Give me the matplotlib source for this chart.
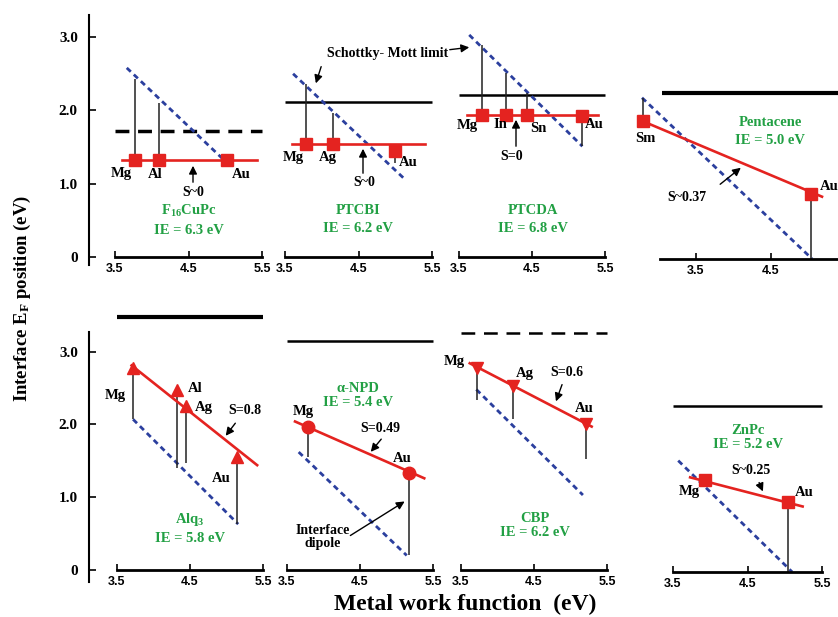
import matplotlib
matplotlib.use('Agg')
import matplotlib.pyplot as plt

W, H = 838, 617
plt.rcParams['font.family'] = ['Liberation Serif', 'DejaVu Serif']
plt.rcParams['font.weight'] = 'bold'
plt.rcParams['mathtext.fontset'] = 'custom'
plt.rcParams['mathtext.rm'] = 'Liberation Serif:bold'
plt.rcParams['mathtext.it'] = 'Liberation Serif:bold'
plt.rcParams['mathtext.bf'] = 'Liberation Serif:bold'

RED = '#e42320'
BLUE = '#2b3f9e'
GREEN = '#22a044'

# ---------------- data (eV) ----------------
ticks_x = [3.5, 4.5, 5.5]
ticks_y = [0, 1, 2, 3]
tick_y_labels = ['0', '1.0', '2.0', '3.0']

# F16CuPc
f16_metals = ['Mg', 'Al', 'Au']
f16_wf = [3.77, 4.10, 5.02]
f16_ef = [1.32, 1.32, 1.32]
f16_top = [2.43, 2.10, 1.32]
f16_sm_x = [3.66, 5.06]
f16_sm_y = [2.58, 1.25]
f16_fit_x = [3.60, 5.43]
f16_fit_y = [1.32, 1.32]
f16_level = 1.72

# PTCBI
ptcbi_metals = ['Mg', 'Ag', 'Au']
ptcbi_wf = [3.79, 4.15, 4.99]
ptcbi_ef = [1.54, 1.54, 1.45]
ptcbi_top = [2.36, 1.96, 1.28]
ptcbi_sm_x = [3.61, 5.11]
ptcbi_sm_y = [2.50, 1.08]
ptcbi_fit_x = [3.60, 5.40]
ptcbi_fit_y = [1.54, 1.54]
ptcbi_level = 2.11

# PTCDA
ptcda_metals = ['Mg', 'In', 'Sn', 'Au']
ptcda_wf = [3.81, 4.15, 4.43, 5.19]
ptcda_ef = [1.94, 1.94, 1.94, 1.93]
ptcda_top = [2.89, 2.51, 2.24, 1.51]
ptcda_sm_x = [3.64, 5.19]
ptcda_sm_y = [3.03, 1.51]
ptcda_fit_x = [3.61, 5.40]
ptcda_fit_y = [1.94, 1.94]
ptcda_level = 2.21

# Pentacene
pen_metals = ['Sm', 'Au']
pen_wf = [2.79, 5.03]
pen_ef = [1.88, 0.89]
pen_top = [2.20, 0.0]
pen_sm_x = [2.78, 5.05]
pen_sm_y = [2.20, 0.0]
pen_fit_x = [2.79, 5.18]
pen_fit_y = [1.88, 0.85]
pen_level = 2.26

# Alq3
alq_metals = ['Mg', 'Al', 'Ag', 'Au']
alq_wf = [3.72, 4.32, 4.45, 5.15]
alq_ef = [2.78, 2.47, 2.25, 1.55]
alq_bot = [2.07, 1.40, 1.47, 0.63]
alq_sm_x = [3.72, 5.16]
alq_sm_y = [2.07, 0.63]
alq_fit_x = [3.70, 5.42]
alq_fit_y = [2.81, 1.44]
alq_level = 3.48

# alpha-NPD
npd_metals = ['Mg', 'Au']
npd_wf = [3.79, 5.17]
npd_ef = [1.97, 1.33]
npd_bot = [1.55, 0.20]
npd_sm_x = [3.66, 5.14]
npd_sm_y = [1.62, 0.20]
npd_fit_x = [3.61, 5.38]
npd_fit_y = [2.04, 1.26]
npd_level = 3.15

# CBP
cbp_metals = ['Mg', 'Ag', 'Au']
cbp_wf = [3.72, 4.21, 5.21]
cbp_ef = [2.77, 2.53, 2.00]
cbp_bot = [2.33, 2.07, 1.52]
cbp_sm_x = [3.71, 5.17]
cbp_sm_y = [2.48, 1.03]
cbp_fit_x = [3.62, 5.29]
cbp_fit_y = [2.84, 1.97]
cbp_level = 3.26

# ZnPc
znpc_metals = ['Mg', 'Au']
znpc_wf = [3.93, 5.04]
znpc_ef = [1.27, 0.96]
znpc_bot = [1.27, 0.0]
znpc_sm_x = [3.57, 5.10]
znpc_sm_y = [1.53, 0.0]
znpc_fit_x = [3.73, 5.24]
znpc_fit_y = [1.30, 0.90]
znpc_level = 2.28

# ---------------- layout ----------------
fig = plt.figure(figsize=(W / 100, H / 100), dpi=100)
XMIN, XMAX, YMIN, YMAX = 2.5, 6.0, -0.5, 3.7


def make_ax(x35, sx, y0, sy, xb=(3.5, 5.5), yaxis=None):
    left = (x35 + (XMIN - 3.5) * sx) / W
    right = (x35 + (XMAX - 3.5) * sx) / W
    bottom = 1 - (y0 - YMIN * sy) / H
    top = 1 - (y0 - YMAX * sy) / H
    ax = fig.add_axes([left, bottom, right - left, top - bottom])
    ax.set_xlim(XMIN, XMAX)
    ax.set_ylim(YMIN, YMAX)
    ax.patch.set_visible(False)
    ax.spines['top'].set_visible(False)
    ax.spines['right'].set_visible(False)
    ax.spines['bottom'].set_position(('data', 0))
    ax.spines['bottom'].set_bounds(*xb)
    ax.spines['bottom'].set_linewidth(2.0)
    ax.set_xticks(ticks_x)
    ax.set_xticklabels([f'{t:.1f}' for t in ticks_x], family='Liberation Sans',
                       fontweight='bold', fontsize=9)
    ax.tick_params(axis='x', direction='in', length=4, width=1.2, pad=4)
    if yaxis is None:
        ax.spines['left'].set_visible(False)
        ax.set_yticks([])
    else:
        xpos, ylo, yhi = yaxis
        ax.spines['left'].set_position(('data', xpos))
        ax.spines['left'].set_bounds(ylo, yhi)
        ax.spines['left'].set_linewidth(1.5)
        ax.set_yticks(ticks_y)
        ax.set_yticklabels(tick_y_labels, fontsize=11, fontweight='bold')
        ax.tick_params(axis='y', direction='in', length=5, width=1.2, pad=8)
    return ax


def panel(ax, sm_x, sm_y, fit_x, fit_y, wf, ef, other, level, level_style,
          level_lw, marker, ms, level_x=(3.5, 5.5)):
    ax.hlines(level, level_x[0], level_x[1], colors='black', lw=level_lw,
              linestyles=level_style)
    ax.plot(sm_x, sm_y, color=BLUE, lw=2.0, linestyle=(0, (2.0, 1.5)))
    ax.vlines(wf, ef, other, colors='#222222', lw=1.1)
    ax.plot(fit_x, fit_y, color=RED, lw=1.9)
    ax.plot(wf, ef, linestyle='none', marker=marker, ms=ms, color=RED, mec=RED)


def txt(px, py, s, size=10, color='black', **kw):
    fig.text(px / W, 1 - py / H, s, ha='center', va='center', fontsize=size,
             color=color, fontweight='bold', **kw)


def arrow(tx, ty, hx, hy):
    fig.add_artist(matplotlib.patches.FancyArrowPatch(
        (tx / W, 1 - ty / H), (hx / W, 1 - hy / H), transform=fig.transFigure,
        arrowstyle='-|>', mutation_scale=12, lw=1.0, color='black'))


# top row
ax1 = make_ax(115, 73.5, 257, 73.3, yaxis=(3.146, -0.11, 3.30))
panel(ax1, f16_sm_x, f16_sm_y, f16_fit_x, f16_fit_y, f16_wf, f16_ef, f16_top,
      f16_level, (0, (4, 2.5)), 2.5, 's', 8)
ax2 = make_ax(285, 73.5, 257, 73.3)
panel(ax2, ptcbi_sm_x, ptcbi_sm_y, ptcbi_fit_x, ptcbi_fit_y, ptcbi_wf, ptcbi_ef,
      ptcbi_top, ptcbi_level, 'solid', 1.8, 's', 8)
ax3 = make_ax(459, 73.0, 257, 73.3)
panel(ax3, ptcda_sm_x, ptcda_sm_y, ptcda_fit_x, ptcda_fit_y, ptcda_wf, ptcda_ef,
      ptcda_top, ptcda_level, 'solid', 1.8, 's', 8)
ax4 = make_ax(696, 75.0, 259, 73.3, xb=(3.02, 5.9))
panel(ax4, pen_sm_x, pen_sm_y, pen_fit_x, pen_fit_y, pen_wf, pen_ef, pen_top,
      pen_level, 'solid', 3.0, 's', 8, level_x=(3.05, 5.9))

# bottom row
ax5 = make_ax(117, 73.0, 570, 72.8, yaxis=(3.116, -0.16, 3.27))
panel(ax5, alq_sm_x, alq_sm_y, alq_fit_x, alq_fit_y, alq_wf, alq_ef, alq_bot,
      alq_level, 'solid', 3.0, '^', 9)
ax6 = make_ax(287, 73.0, 570, 72.8)
panel(ax6, npd_sm_x, npd_sm_y, npd_fit_x, npd_fit_y, npd_wf, npd_ef, npd_bot,
      npd_level, 'solid', 1.8, 'o', 9)
ax7 = make_ax(461, 73.0, 570, 72.8)
panel(ax7, cbp_sm_x, cbp_sm_y, cbp_fit_x, cbp_fit_y, cbp_wf, cbp_ef, cbp_bot,
      cbp_level, (0, (5.5, 3.5)), 1.8, 'v', 9)
ax8 = make_ax(673, 74.5, 572, 72.8)
panel(ax8, znpc_sm_x, znpc_sm_y, znpc_fit_x, znpc_fit_y, znpc_wf, znpc_ef,
      znpc_bot, znpc_level, 'solid', 1.8, 's', 8)

# ---------------- labels ----------------
# F16CuPc
for (px, py), s in zip([(121, 174), (155, 174), (241, 174)], f16_metals):
    txt(px, py, s, 10.5)
txt(193, 192, 'S~0', 10)
arrow(193, 185, 193, 163)
txt(189, 211, r'F$_{16}$CuPc', 10.5, GREEN)
txt(189, 230, 'IE = 6.3 eV', 10.5, GREEN)

# PTCBI
for (px, py), s in zip([(293, 157), (328, 157), (408, 163)], ptcbi_metals):
    txt(px, py, s, 10.5)
txt(364, 183, 'S~0', 10)
arrow(363, 176, 363, 146)
txt(358, 211, 'PTCBI', 10.5, GREEN)
txt(358, 229, 'IE = 6.2 eV', 10.5, GREEN)
txt(388, 53, 'Schottky- Mott limit', 10)
arrow(322, 64, 315, 86)
arrow(447, 50, 472, 47)

# PTCDA
for (px, py), s in zip([(467, 125), (500, 125), (538, 128), (594, 125)], ptcda_metals):
    txt(px, py, s, 10.5)
txt(512, 157, 'S=0', 10)
arrow(516, 149, 516, 117)
txt(533, 211, 'PTCDA', 10.5, GREEN)
txt(533, 229, 'IE = 6.8 eV', 10.5, GREEN)

# Pentacene
txt(645, 138, pen_metals[0], 10.5)
txt(829, 187, pen_metals[1], 10.5)
txt(770, 123, 'Pentacene', 10.5, GREEN)
txt(770, 140, 'IE = 5.0 eV', 10.5, GREEN)
txt(687, 197, 'S~0.37', 10)
arrow(718, 186, 743, 166)

# Alq3
for (px, py), s in zip([(115, 395), (195, 388), (204, 408), (221, 478)], alq_metals):
    txt(px, py, s, 10.5)
txt(245, 411, 'S=0.8', 10)
arrow(237, 421, 224, 438)
txt(190, 520, r'Alq$_3$', 10.5, GREEN)
txt(190, 539, 'IE = 5.8 eV', 10.5, GREEN)

# alpha-NPD
txt(303, 412, npd_metals[0], 10.5)
txt(402, 459, npd_metals[1], 10.5)
txt(380, 428, 'S=0.49', 10)
arrow(383, 437, 369, 454)
txt(358, 388, 'α-NPD', 10.5, GREEN)
txt(358, 403, 'IE = 5.4 eV', 10.5, GREEN)
txt(323, 537, 'Interface\ndipole', 10, linespacing=1.1)
arrow(348, 537, 407, 500)

# CBP
for (px, py), s in zip([(454, 362), (525, 373), (584, 408)], cbp_metals):
    txt(px, py, s, 10.5)
txt(567, 373, 'S=0.6', 10)
arrow(563, 382, 555, 404)
txt(535, 518, 'CBP', 10.5, GREEN)
txt(535, 533, 'IE = 6.2 eV', 10.5, GREEN)

# ZnPc
txt(689, 491, znpc_metals[0], 10.5)
txt(804, 493, znpc_metals[1], 10.5)
txt(751, 470, 'S~0.25', 10)
arrow(758, 480, 764, 494)
txt(748, 430, 'ZnPc', 10.5, GREEN)
txt(748, 444, 'IE = 5.2 eV', 10.5, GREEN)

# axis titles
txt(22, 298, r'Interface E$_F$ position (eV)', 13.5, rotation=90)
txt(465, 604, 'Metal work function  (eV)', 17)

fig.savefig('out.png', dpi=100)
